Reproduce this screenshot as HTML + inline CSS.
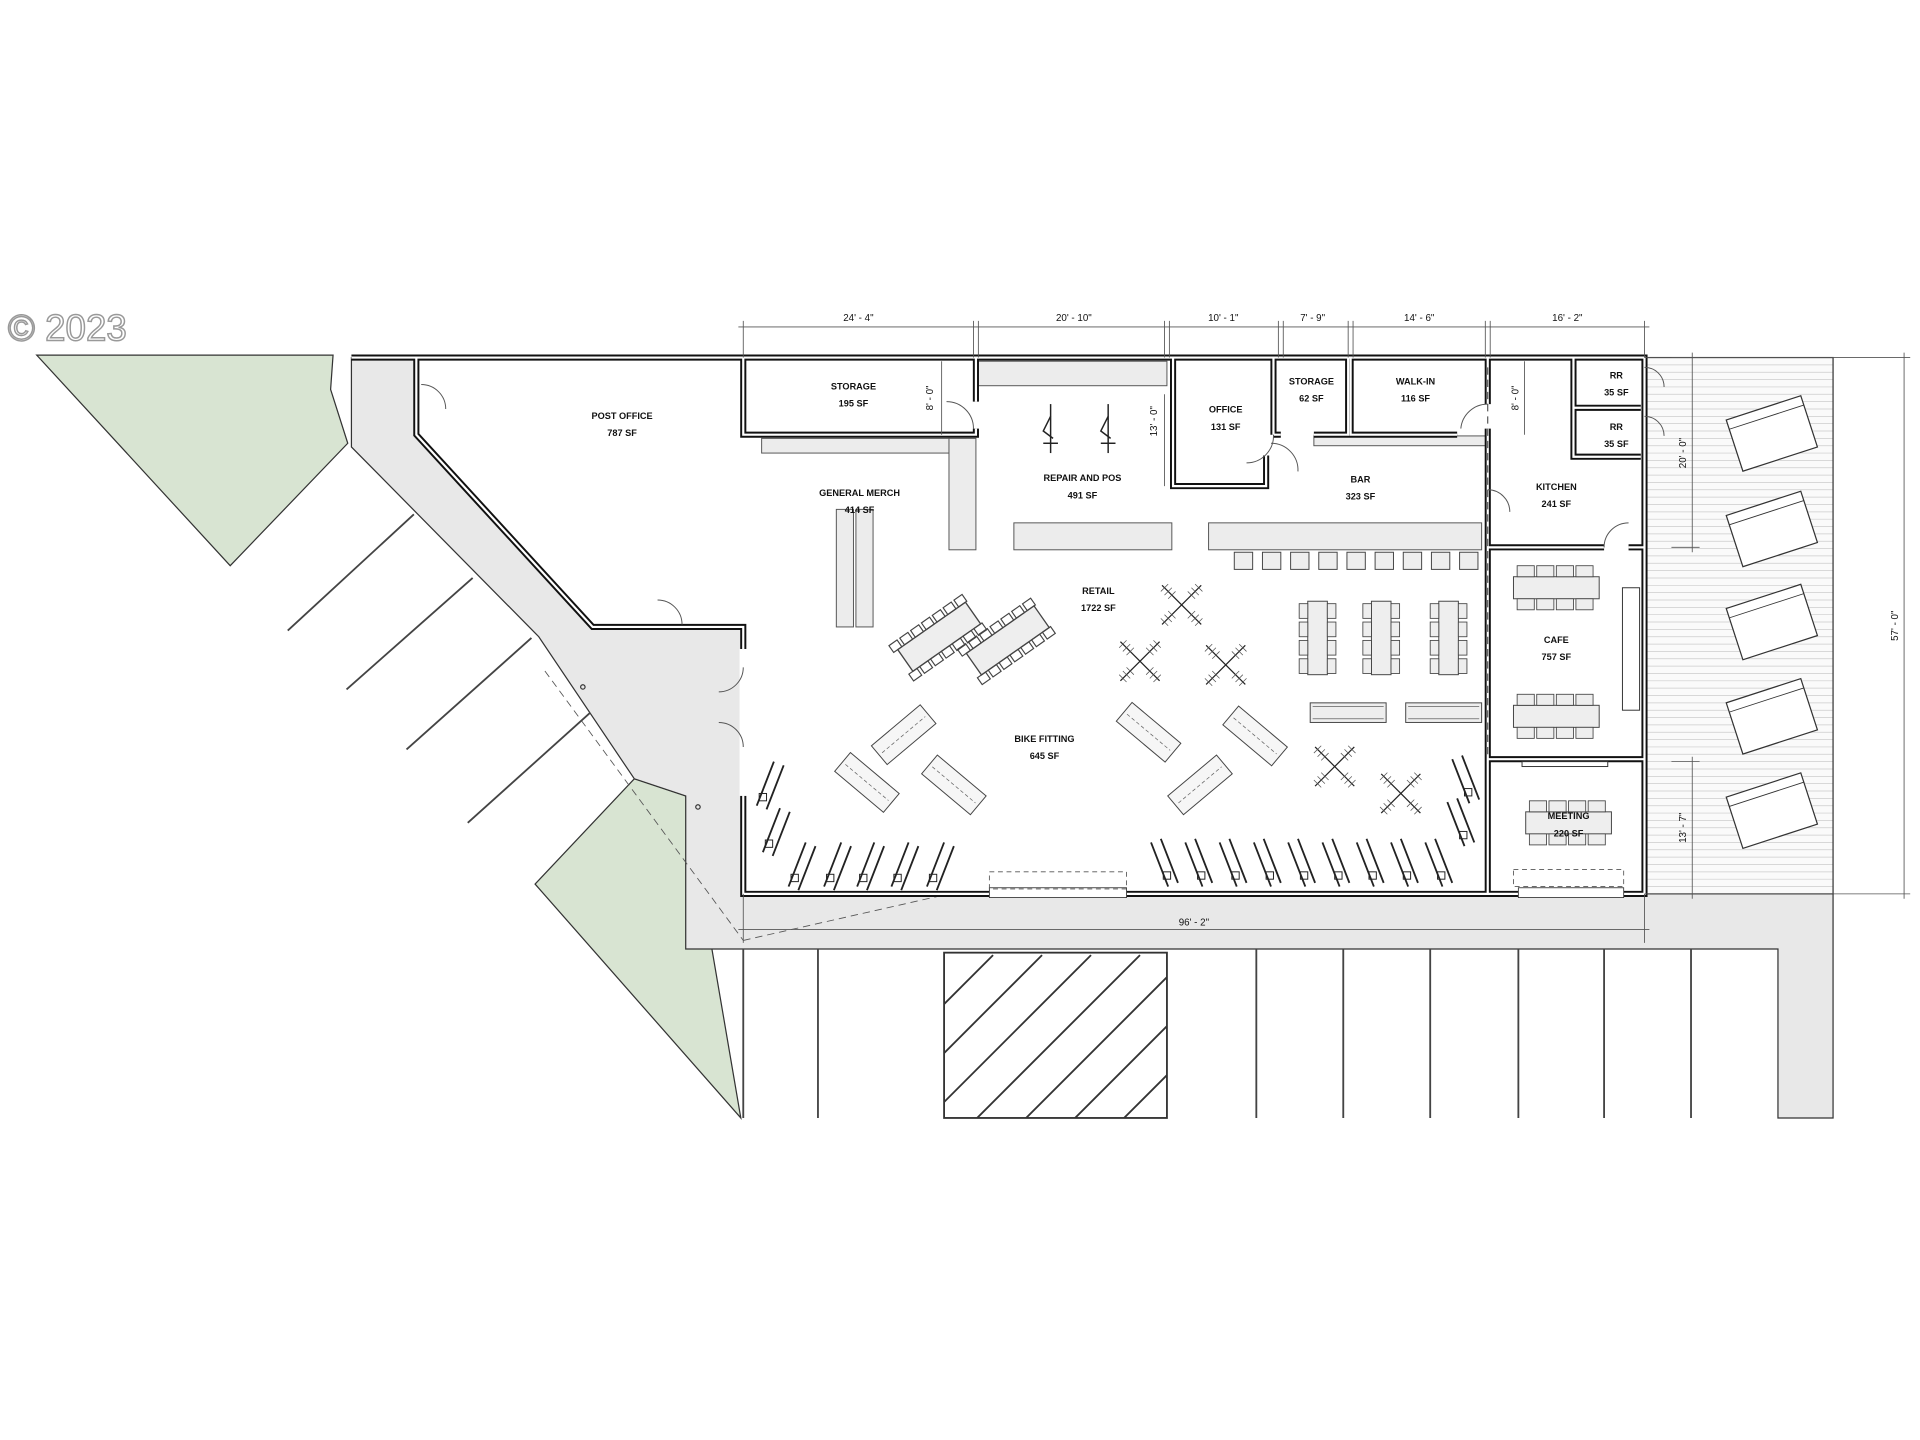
<!DOCTYPE html>
<html><head><meta charset="utf-8"><style>
html,body{margin:0;padding:0;background:#fff;}
svg{display:block;}
text{font-family:"Liberation Sans",sans-serif;font-weight:bold;font-size:7.5px;text-anchor:middle;fill:#111;}
.d{font-weight:normal;font-size:8px;}
</style></head><body>
<svg width="1920" height="1440" viewBox="0 0 1568 1176" xmlns="http://www.w3.org/2000/svg">
<defs>
<g id="rack"><line x1="0" y1="0" x2="-14" y2="36" stroke="#222" stroke-width="1.5"/><line x1="8" y1="3" x2="-6" y2="39" stroke="#222" stroke-width="1.5"/><rect x="-12" y="26" width="6" height="6" fill="none" stroke="#222" stroke-width=".8"/></g>
<g id="rackR"><line x1="0" y1="0" x2="14" y2="36" stroke="#222" stroke-width="1.5"/><line x1="8" y1="-3" x2="22" y2="33" stroke="#222" stroke-width="1.5"/><rect x="10" y="24" width="6" height="6" fill="none" stroke="#222" stroke-width=".8"/></g>
<g id="fit"><rect x="-26" y="-10" width="52" height="20" fill="#f6f6f6" stroke="#444" stroke-width=".8"/><line x1="-23" y1="0" x2="23" y2="0" stroke="#666" stroke-width=".6" stroke-dasharray="3,2"/></g>
<g id="xt"><g stroke="#222" stroke-width="1"><line x1="-16" y1="-16" x2="16" y2="16"/><line x1="16" y1="-16" x2="-16" y2="16"/></g><g stroke="#555" stroke-width=".6"><line x1="-14" y1="-8" x2="-8" y2="-14"/><line x1="-11" y1="-5" x2="-5" y2="-11"/><line x1="-17" y1="-11" x2="-11" y2="-17"/><line x1="8" y1="14" x2="14" y2="8"/><line x1="5" y1="11" x2="11" y2="5"/><line x1="11" y1="17" x2="17" y2="11"/><line x1="8" y1="-14" x2="14" y2="-8"/><line x1="5" y1="-11" x2="11" y2="-5"/><line x1="11" y1="-17" x2="17" y2="-11"/><line x1="-14" y1="8" x2="-8" y2="14"/><line x1="-11" y1="5" x2="-5" y2="11"/><line x1="-17" y1="11" x2="-11" y2="17"/></g></g>
<g id="ctab"><rect x="-25" y="-8" width="50" height="16" fill="#eee" stroke="#444" stroke-width=".8"/><g fill="none" stroke="#444" stroke-width=".7"><rect x="-28" y="-13" width="6" height="5"/><rect x="-20" y="-13" width="6" height="5"/><rect x="-12" y="-13" width="6" height="5"/><rect x="-4" y="-13" width="6" height="5"/><rect x="4" y="-13" width="6" height="5"/><rect x="12" y="-13" width="6" height="5"/><rect x="20" y="-13" width="6" height="5"/><rect x="-28" y="8" width="6" height="5"/><rect x="-20" y="8" width="6" height="5"/><rect x="-12" y="8" width="6" height="5"/><rect x="-4" y="8" width="6" height="5"/><rect x="4" y="8" width="6" height="5"/><rect x="12" y="8" width="6" height="5"/><rect x="20" y="8" width="6" height="5"/></g></g>
<g id="vtab"><rect x="-8" y="-30" width="16" height="60" fill="#eee" stroke="#444" stroke-width=".8"/><g fill="#eee" stroke="#444" stroke-width=".7"><rect x="-15" y="-28" width="7" height="12"/><rect x="-15" y="-13" width="7" height="12"/><rect x="-15" y="2" width="7" height="12"/><rect x="-15" y="17" width="7" height="12"/><rect x="8" y="-28" width="7" height="12"/><rect x="8" y="-13" width="7" height="12"/><rect x="8" y="2" width="7" height="12"/><rect x="8" y="17" width="7" height="12"/></g></g>
<g id="htab"><rect x="-35" y="-9" width="70" height="18" fill="#eee" stroke="#444" stroke-width=".8"/><g fill="#eee" stroke="#444" stroke-width=".7"><rect x="-32" y="-18" width="14" height="9"/><rect x="-16" y="-18" width="14" height="9"/><rect x="0" y="-18" width="14" height="9"/><rect x="16" y="-18" width="14" height="9"/><rect x="-32" y="9" width="14" height="9"/><rect x="-16" y="9" width="14" height="9"/><rect x="0" y="9" width="14" height="9"/><rect x="16" y="9" width="14" height="9"/></g></g>
<g id="bench"><rect x="-32" y="-22" width="64" height="44" fill="#fff" stroke="#333" stroke-width="1"/><line x1="-32" y1="-14" x2="32" y2="-14" stroke="#333" stroke-width=".7"/></g>
</defs>

<text x="55" y="278" style="font-size:30px;font-weight:normal;fill:#fff;stroke:#999;stroke-width:1.2;">© 2023</text>

<polygon points="30,290 272,290 270,318 284,362 188,462" fill="#d8e4d2" stroke="#333" stroke-width="1"/>
<polygon points="437,722 518,636 560,650 605,913" fill="#d8e4d2" stroke="#333" stroke-width="1"/>

<polygon points="287,292 340,292 340,355 484,512 607,512 607,730 1497,730 1497,913 1452,913 1452,775 560,775 560,650 518,636 440,520 287,365" fill="#e8e8e8" stroke="#333" stroke-width="1"/>
<line x1="445" y1="548" x2="607" y2="768" stroke="#555" stroke-width=".7" stroke-dasharray="6,4"/>
<line x1="607" y1="768" x2="775" y2="730" stroke="#555" stroke-width=".7" stroke-dasharray="6,4"/>
<circle cx="476" cy="561" r="1.8" fill="none" stroke="#333"/><circle cx="570" cy="659" r="1.8" fill="none" stroke="#333"/>

<g stroke="#444" stroke-width="1.5">
<line x1="235" y1="515" x2="338" y2="420"/><line x1="283" y1="563" x2="386" y2="472"/><line x1="332" y1="612" x2="434" y2="521"/><line x1="382" y1="672" x2="482" y2="582"/>
</g>
<g stroke="#444" stroke-width="1.5">
<line x1="607" y1="775" x2="607" y2="913"/><line x1="668" y1="775" x2="668" y2="913"/><line x1="1026" y1="775" x2="1026" y2="913"/><line x1="1097" y1="775" x2="1097" y2="913"/><line x1="1168" y1="775" x2="1168" y2="913"/><line x1="1240" y1="775" x2="1240" y2="913"/><line x1="1310" y1="775" x2="1310" y2="913"/><line x1="1381" y1="775" x2="1381" y2="913"/>
</g>
<clipPath id="hb"><rect x="771" y="778" width="182" height="135"/></clipPath>
<rect x="771" y="778" width="182" height="135" fill="#fff" stroke="#333" stroke-width="1.5"/>
<g clip-path="url(#hb)" stroke="#333" stroke-width="1.5">
<line x1="741" y1="850" x2="811" y2="780"/><line x1="741" y1="890" x2="851" y2="780"/><line x1="741" y1="930" x2="891" y2="780"/><line x1="771" y1="940" x2="931" y2="780"/><line x1="811" y1="940" x2="971" y2="780"/><line x1="851" y1="940" x2="1011" y2="780"/><line x1="891" y1="940" x2="1051" y2="780"/><line x1="931" y1="940" x2="1091" y2="780"/>
</g>

<rect x="1343" y="292" width="154" height="438" fill="#fafafa"/>
<g stroke="#ccc" stroke-width=".6">
<path d="M1343 298H1497M1343 304H1497M1343 310H1497M1343 316H1497M1343 322H1497M1343 328H1497M1343 334H1497M1343 340H1497M1343 346H1497M1343 352H1497M1343 358H1497M1343 364H1497M1343 370H1497M1343 376H1497M1343 382H1497M1343 388H1497M1343 394H1497M1343 400H1497M1343 406H1497M1343 412H1497M1343 418H1497M1343 424H1497M1343 430H1497M1343 436H1497M1343 442H1497M1343 448H1497M1343 454H1497M1343 460H1497M1343 466H1497M1343 472H1497M1343 478H1497M1343 484H1497M1343 490H1497M1343 496H1497M1343 502H1497M1343 508H1497M1343 514H1497M1343 520H1497M1343 526H1497M1343 532H1497M1343 538H1497M1343 544H1497M1343 550H1497M1343 556H1497M1343 562H1497M1343 568H1497M1343 574H1497M1343 580H1497M1343 586H1497M1343 592H1497M1343 598H1497M1343 604H1497M1343 610H1497M1343 616H1497M1343 622H1497M1343 628H1497M1343 634H1497M1343 640H1497M1343 646H1497M1343 652H1497M1343 658H1497M1343 664H1497M1343 670H1497M1343 676H1497M1343 682H1497M1343 688H1497M1343 694H1497M1343 700H1497M1343 706H1497M1343 712H1497M1343 718H1497M1343 724H1497"/>
</g>
<rect x="1343" y="292" width="154" height="438" fill="none" stroke="#333" stroke-width="1"/>
<use href="#bench" transform="translate(1447,354) rotate(-18)"/>
<use href="#bench" transform="translate(1447,432) rotate(-18)"/>
<use href="#bench" transform="translate(1447,508) rotate(-18)"/>
<use href="#bench" transform="translate(1447,585) rotate(-18)"/>
<use href="#bench" transform="translate(1447,662) rotate(-18)"/>

<polygon points="340,295 607,295 607,509 484,509 340,355" fill="#fff"/>
<rect x="607" y="295" width="736" height="435" fill="#fff"/>

<g fill="#ececec" stroke="#555" stroke-width=".8">
<rect x="622" y="358" width="153" height="12"/>
<rect x="775" y="358" width="22" height="91"/>
<rect x="797" y="295" width="156" height="20"/>
<rect x="1073" y="356" width="142" height="8"/>
<rect x="828" y="427" width="129" height="22"/>
<rect x="987" y="427" width="223" height="22"/>
<rect x="683" y="416" width="14" height="96"/><rect x="699" y="416" width="14" height="96"/>
</g>
<g fill="#eee" stroke="#444" stroke-width=".8">
<rect x="1008" y="451" width="15" height="14"/><rect x="1031" y="451" width="15" height="14"/><rect x="1054" y="451" width="15" height="14"/><rect x="1077" y="451" width="15" height="14"/><rect x="1100" y="451" width="15" height="14"/><rect x="1123" y="451" width="15" height="14"/><rect x="1146" y="451" width="15" height="14"/><rect x="1169" y="451" width="15" height="14"/><rect x="1192" y="451" width="15" height="14"/>
</g>

<g fill="none" stroke-linejoin="miter">
<g stroke="#111" stroke-width="5">
<path d="M287 292H1343V730H607V512H484L340 355V292"/>
<path d="M607 292V355H765M797 292V328M797 350V355H607"/>
<path d="M958 292V397H1034V372M1040 292V355M1101 292V355H1073M1046 355H1040M1103 292V355H1190M1215 292V330M1215 350V730"/>
<path d="M1285 292V333H1340M1285 333V373H1340M1215 447H1310M1330 447H1343M1215 620H1343"/>
</g>
<g stroke="#fff" stroke-width="1.8">
<path d="M287 292H1343V730H607V512H484L340 355V292"/>
<path d="M607 292V355H765M797 292V328M797 350V355H607"/>
<path d="M958 292V397H1034V372M1040 292V355M1101 292V355H1073M1046 355H1040M1103 292V355H1190M1215 292V330M1215 350V730"/>
<path d="M1285 292V333H1340M1285 333V373H1340M1215 447H1310M1330 447H1343M1215 620H1343"/>
</g>
</g>
<rect x="808" y="725" width="112" height="8" fill="#fff" stroke="#333" stroke-width=".7"/>
<rect x="808" y="712" width="112" height="14" fill="none" stroke="#555" stroke-width=".7" stroke-dasharray="4,3"/>
<rect x="1240" y="725" width="86" height="8" fill="#fff" stroke="#333" stroke-width=".7"/>
<rect x="1236" y="710" width="90" height="14" fill="none" stroke="#555" stroke-width=".7" stroke-dasharray="4,3"/>
<rect x="604" y="530" width="6" height="120" fill="#fff"/>
<line x1="1215" y1="300" x2="1215" y2="620" stroke="#333" stroke-width=".8" stroke-dasharray="6,4"/>
<rect x="1325" y="480" width="14" height="100" fill="#fff" stroke="#333" stroke-width=".8"/>
<g fill="none" stroke="#555" stroke-width=".8">
<path d="M795 350A22 22 0 0 0 773 328"/><path d="M1060 385A22 22 0 0 0 1038 362" /><path d="M1040 355A22 22 0 0 1 1018 378"/>
<path d="M1215 330A22 22 0 0 0 1193 350"/><path d="M344 314A20 20 0 0 1 364 334"/><path d="M537 490A20 20 0 0 1 557 510"/>
<path d="M1343 300A16 16 0 0 1 1359 316"/><path d="M1343 340A16 16 0 0 1 1359 356"/><path d="M1310 447A20 20 0 0 1 1330 427"/>
<path d="M607 545A20 20 0 0 1 587 565"/><path d="M607 610A20 20 0 0 0 587 590"/><path d="M1215 400A18 18 0 0 1 1233 418"/>
</g>

<g stroke="#222" stroke-width="1.2" fill="none">
<line x1="858" y1="330" x2="858" y2="370"/><line x1="852" y1="362" x2="864" y2="362"/><path d="M858 340L852 352L860 358"/>
<line x1="905" y1="330" x2="905" y2="370"/><line x1="899" y1="362" x2="911" y2="362"/><path d="M905 340L899 352L907 358"/>
</g>

<use href="#ctab" transform="translate(767,520) rotate(-35) scale(1.35)"/>
<use href="#ctab" transform="translate(823,523) rotate(-35) scale(1.35)"/>
<use href="#xt" transform="translate(965,494)"/>
<use href="#xt" transform="translate(931,540)"/>
<use href="#xt" transform="translate(1001,543)"/>
<use href="#xt" transform="translate(1090,626)"/>
<use href="#xt" transform="translate(1144,648)"/>
<use href="#vtab" transform="translate(1076,521)"/>
<use href="#vtab" transform="translate(1128,521)"/>
<use href="#vtab" transform="translate(1183,521)"/>
<g fill="#eee" stroke="#444" stroke-width=".8"><rect x="1070" y="574" width="62" height="16"/><rect x="1148" y="574" width="62" height="16"/></g>
<g fill="none" stroke="#444" stroke-width=".5"><path d="M1072 577H1130M1072 587H1130M1150 577H1208M1150 587H1208"/></g>
<use href="#fit" transform="translate(738,600) rotate(-40)"/>
<use href="#fit" transform="translate(708,639) rotate(40)"/>
<use href="#fit" transform="translate(779,641) rotate(40)"/>
<use href="#fit" transform="translate(938,598) rotate(40)"/>
<use href="#fit" transform="translate(1025,601) rotate(40)"/>
<use href="#fit" transform="translate(980,641) rotate(-40)"/>
<use href="#rack" transform="translate(632,622)"/><use href="#rack" transform="translate(637,660)"/>
<use href="#rack" transform="translate(658,688)"/><use href="#rack" transform="translate(687,688)"/><use href="#rack" transform="translate(714,688)"/><use href="#rack" transform="translate(742,688)"/><use href="#rack" transform="translate(771,688)"/>
<use href="#rackR" transform="translate(940,688)"/><use href="#rackR" transform="translate(968,688)"/><use href="#rackR" transform="translate(996,688)"/><use href="#rackR" transform="translate(1024,688)"/><use href="#rackR" transform="translate(1052,688)"/><use href="#rackR" transform="translate(1080,688)"/><use href="#rackR" transform="translate(1108,688)"/><use href="#rackR" transform="translate(1136,688)"/><use href="#rackR" transform="translate(1164,688)"/>
<use href="#rackR" transform="translate(1186,620)"/><use href="#rackR" transform="translate(1182,655)"/>
<use href="#htab" transform="translate(1271,480)"/>
<use href="#htab" transform="translate(1271,585)"/>
<use href="#htab" transform="translate(1281,672)"/>
<rect x="1243" y="622" width="70" height="4" fill="#fff" stroke="#333" stroke-width=".8"/>

<text x="508" y="342">POST OFFICE</text><text x="508" y="356">787 SF</text>
<text x="697" y="318">STORAGE</text><text x="697" y="332">195 SF</text>
<text x="1001" y="337">OFFICE</text><text x="1001" y="351">131 SF</text>
<text x="1071" y="314">STORAGE</text><text x="1071" y="328">62 SF</text>
<text x="1156" y="314">WALK-IN</text><text x="1156" y="328">116 SF</text>
<text x="1320" y="309">RR</text><text x="1320" y="323">35 SF</text>
<text x="1320" y="351">RR</text><text x="1320" y="365">35 SF</text>
<text x="702" y="405">GENERAL MERCH</text><text x="702" y="419">414 SF</text>
<text x="884" y="393">REPAIR AND POS</text><text x="884" y="407">491 SF</text>
<text x="1111" y="394">BAR</text><text x="1111" y="408">323 SF</text>
<text x="1271" y="400">KITCHEN</text><text x="1271" y="414">241 SF</text>
<text x="897" y="485">RETAIL</text><text x="897" y="499">1722 SF</text>
<text x="1271" y="525">CAFE</text><text x="1271" y="539">757 SF</text>
<text x="853" y="606">BIKE FITTING</text><text x="853" y="620">645 SF</text>
<text x="1281" y="669">MEETING</text><text x="1281" y="683">220 SF</text>

<g stroke="#555" stroke-width=".7" fill="none">
<path d="M603 267H1347"/>
<path d="M607 262V292M795 262V292M799 262V292M951 262V292M955 262V292M1044 262V292M1048 262V292M1101 262V292M1105 262V292M1213 262V292M1217 262V292M1343 262V292"/>
<path d="M769 295V355M951 322V397M1245 295V355"/>
<path d="M1343 292H1560M1555 288V734M1343 730H1560"/>
<path d="M1365 292H1388M1382 288V451M1365 447H1388M1365 622H1388M1382 618V734"/>
<path d="M607 730V770M1343 730V770M603 759H1347"/>
</g>
<text class="d" x="701" y="262">24' - 4"</text>
<text class="d" x="877" y="262">20' - 10"</text>
<text class="d" x="999" y="262">10' - 1"</text>
<text class="d" x="1072" y="262">7' - 9"</text>
<text class="d" x="1159" y="262">14' - 6"</text>
<text class="d" x="1280" y="262">16' - 2"</text>
<text class="d" x="975" y="756">96' - 2"</text>
<text class="d" transform="translate(762,325) rotate(-90)">8' - 0"</text>
<text class="d" transform="translate(945,344) rotate(-90)">13' - 0"</text>
<text class="d" transform="translate(1240,325) rotate(-90)">8' - 0"</text>
<text class="d" transform="translate(1550,511) rotate(-90)">57' - 0"</text>
<text class="d" transform="translate(1377,370) rotate(-90)">20' - 0"</text>
<text class="d" transform="translate(1377,676) rotate(-90)">13' - 7"</text>
</svg>
</body></html>
